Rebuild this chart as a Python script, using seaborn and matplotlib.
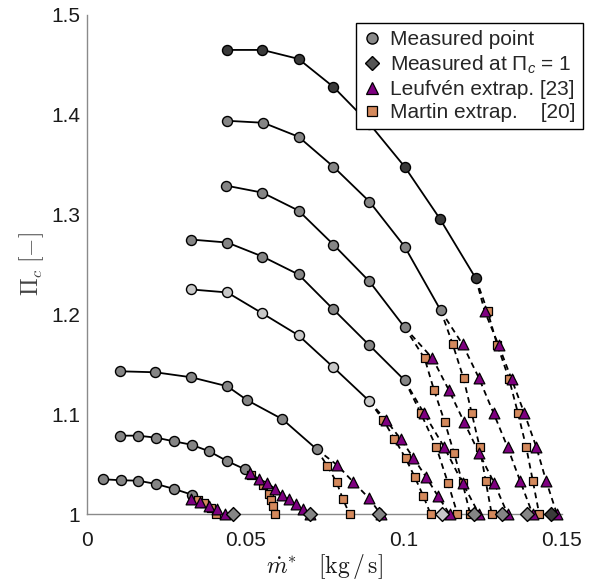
import matplotlib
matplotlib.use('Agg')
import matplotlib.pyplot as plt
import seaborn as sns
from matplotlib.lines import Line2D

sns.set_theme(style='white')
plt.rcParams['font.family'] = ['Liberation Sans', 'DejaVu Sans']
plt.rcParams['mathtext.fontset'] = 'custom'
plt.rcParams['mathtext.rm'] = 'Liberation Sans'
plt.rcParams['mathtext.it'] = 'Liberation Sans:italic'
plt.rcParams['mathtext.bf'] = 'Liberation Sans:bold'

# ---------------- data: measured speed lines (top -> bottom) ----------------
meas_x = [
    [0.0443, 0.0554, 0.0668, 0.0778, 0.0892, 0.1003, 0.1114, 0.1228],
    [0.0443, 0.0557, 0.0668, 0.0778, 0.0892, 0.1003, 0.1117],
    [0.0440, 0.0554, 0.0668, 0.0778, 0.0892, 0.1003],
    [0.0329, 0.0443, 0.0554, 0.0668, 0.0778, 0.0892, 0.1003],
    [0.0329, 0.0443, 0.0554, 0.0668, 0.0778, 0.0892],
    [0.0105, 0.0216, 0.0329, 0.0443, 0.0506, 0.0617, 0.0725],
    [0.0105, 0.0161, 0.0218, 0.0275, 0.0330, 0.0386, 0.0442, 0.0499],
    [0.0051, 0.0108, 0.0161, 0.0218, 0.0275, 0.0332],
]
meas_pi = [
    [1.465, 1.465, 1.456, 1.428, 1.391, 1.348, 1.296, 1.236],
    [1.394, 1.392, 1.378, 1.348, 1.313, 1.268, 1.204],
    [1.329, 1.322, 1.304, 1.270, 1.233, 1.187],
    [1.275, 1.272, 1.258, 1.240, 1.205, 1.169, 1.134],
    [1.225, 1.222, 1.201, 1.179, 1.147, 1.113],
    [1.143, 1.142, 1.137, 1.128, 1.114, 1.095, 1.065],
    [1.0785, 1.0785, 1.0765, 1.0728, 1.0694, 1.0628, 1.0531, 1.0448],
    [1.0348, 1.0338, 1.0334, 1.0301, 1.0251, 1.0193],
]
meas_color = ['#3a3a3a', '#858585', '#858585', '#858585', '#c8c8c8',
              '#858585', '#858585', '#858585']

# measured at Pi_c = 1
zero_x = [0.1465, 0.1388, 0.1309, 0.1223, 0.1122, 0.0921, 0.0703, 0.0462]
zero_pi = [1.0, 1.0, 1.0, 1.0, 1.0, 1.0, 1.0, 1.0]
zero_color = ['#3a3a3a', '#858585', '#858585', '#858585', '#c8c8c8',
              '#858585', '#858585', '#858585']

# Leufven extrapolation [23]
leuf_x = [
    [0.1256, 0.1300, 0.1341, 0.1381, 0.1419, 0.1450, 0.1484],
    [0.1186, 0.1238, 0.1284, 0.1328, 0.1368, 0.1407],
    [0.1091, 0.1143, 0.1191, 0.1238, 0.1286, 0.1328],
    [0.1064, 0.1128, 0.1186, 0.1238],
    [0.0944, 0.0991, 0.1031, 0.1071, 0.1108, 0.1145],
    [0.0790, 0.0841, 0.0890, 0.0927],
    [0.0515, 0.0542, 0.0569, 0.0595, 0.0616, 0.0639, 0.0661, 0.0682, 0.0703],
    [0.0327, 0.0358, 0.0384, 0.0410, 0.0437],
]
leuf_pi = [
    [1.203, 1.169, 1.135, 1.101, 1.067, 1.033, 1.0],
    [1.170, 1.136, 1.101, 1.067, 1.033, 1.0],
    [1.156, 1.124, 1.092, 1.061, 1.031, 1.0],
    [1.101, 1.067, 1.031, 1.0],
    [1.094, 1.075, 1.056, 1.037, 1.018, 1.0],
    [1.049, 1.032, 1.016, 1.0],
    [1.041, 1.035, 1.031, 1.025, 1.019, 1.015, 1.010, 1.005, 1.0],
    [1.015, 1.012, 1.008, 1.005, 1.0],
]

# Martin extrapolation [20]
mart_x = [
    [0.1265, 0.1296, 0.1333, 0.1361, 0.1387, 0.1408, 0.1428],
    [0.1155, 0.1189, 0.1215, 0.1240, 0.1259, 0.1278],
    [0.1066, 0.1096, 0.1130, 0.1159, 0.1186, 0.1210],
    [0.1054, 0.1103, 0.1140, 0.1170],
    [0.0936, 0.0971, 0.1006, 0.1035, 0.1062, 0.1085],
    [0.0759, 0.0788, 0.0808, 0.0829],
    [0.0519, 0.0556, 0.0574, 0.0581, 0.0587, 0.0595],
    [0.0350, 0.0370, 0.0392, 0.0408],
]
mart_pi = [
    [1.203, 1.169, 1.135, 1.101, 1.067, 1.033, 1.0],
    [1.170, 1.136, 1.101, 1.067, 1.033, 1.0],
    [1.156, 1.124, 1.092, 1.061, 1.031, 1.0],
    [1.101, 1.067, 1.031, 1.0],
    [1.094, 1.075, 1.056, 1.037, 1.018, 1.0],
    [1.048, 1.032, 1.015, 1.0],
    [1.039, 1.029, 1.020, 1.014, 1.008, 1.0],
    [1.014, 1.011, 1.006, 1.0],
]

x_ticks = [0, 0.05, 0.1, 0.15]
x_ticklabels = ['0', '0.05', '0.1', '0.15']
y_ticks = [1.0, 1.1, 1.2, 1.3, 1.4, 1.5]
y_ticklabels = ['1', '1.1', '1.2', '1.3', '1.4', '1.5']

legend_labels = ['Measured point', r'Measured at $\Pi_c$ = 1',
                 'Leufvén extrap. [23]', 'Martin extrap.    [20]']

# ---------------- figure ----------------
fig = plt.figure(figsize=(5.89, 5.87), dpi=100)
ax = fig.add_axes([87/589, 73/587, 475/589, 499/587])

purple = '#7e0080'
orange = '#d4895c'
dash = (0, (3.2, 2.4))

for i in range(len(meas_x)):
    sns.lineplot(x=meas_x[i], y=meas_pi[i], sort=False, estimator=None,
                 color='black', lw=1.3, ax=ax, zorder=2)
    lx = [meas_x[i][-1]] + leuf_x[i]
    ly = [meas_pi[i][-1]] + leuf_pi[i]
    mx = [meas_x[i][-1]] + mart_x[i]
    my = [meas_pi[i][-1]] + mart_pi[i]
    sns.lineplot(x=lx, y=ly, sort=False, estimator=None, color='black',
                 lw=1.3, ax=ax, zorder=2, linestyle=dash)
    sns.lineplot(x=mx, y=my, sort=False, estimator=None, color='black',
                 lw=1.3, ax=ax, zorder=2, linestyle=dash)

for i in range(len(meas_x)):
    sns.scatterplot(x=meas_x[i], y=meas_pi[i], marker='o', s=52,
                    color=meas_color[i], edgecolor='black', linewidth=1.0,
                    ax=ax, zorder=3, clip_on=False)
    sns.scatterplot(x=mart_x[i], y=mart_pi[i], marker='s', s=34,
                    color=orange, edgecolor='black', linewidth=0.9,
                    ax=ax, zorder=4, clip_on=False)
    sns.scatterplot(x=leuf_x[i], y=leuf_pi[i], marker='^', s=60,
                    color=purple, edgecolor='black', linewidth=0.9,
                    ax=ax, zorder=5, clip_on=False)

for i in range(len(zero_x)):
    sns.scatterplot(x=[zero_x[i]], y=[zero_pi[i]], marker='D', s=50,
                    color=zero_color[i], edgecolor='black', linewidth=1.0,
                    ax=ax, zorder=6, clip_on=False)

ax.set_xlim(0, 0.15)
ax.set_ylim(1, 1.5)
ax.set_xticks(x_ticks)
ax.set_xticklabels(x_ticklabels)
ax.set_yticks(y_ticks)
ax.set_yticklabels(y_ticklabels)
ax.tick_params(direction='in', length=4, width=0.8, colors='#7f7f7f',
               labelcolor='#1a1a1a', labelsize=15)
ax.tick_params(axis='x', pad=12)
ax.tick_params(axis='y', pad=5)
for s in ['top', 'right']:
    ax.spines[s].set_visible(False)
for s in ['left', 'bottom']:
    ax.spines[s].set_color('#8a8a8a')
    ax.spines[s].set_linewidth(1.0)

ax.set_xlabel(r'$\dot{m}^{*}\quad[\mathrm{kg}\,/\,\mathrm{s}]$', fontsize=17,
              color='#1a1a1a', math_fontfamily='cm', labelpad=2)
ax.set_ylabel(r'$\Pi_c\;[-]$', fontsize=17, color='#444444',
              math_fontfamily='cm', labelpad=4)

handles = [
    Line2D([], [], ls='none', marker='o', ms=8, mfc='#8a8a8a', mec='black', mew=1.0),
    Line2D([], [], ls='none', marker='D', ms=7, mfc='#555555', mec='black', mew=1.0),
    Line2D([], [], ls='none', marker='^', ms=8, mfc=purple, mec='black', mew=0.9),
    Line2D([], [], ls='none', marker='s', ms=6.5, mfc=orange, mec='black', mew=0.9),
]
leg = ax.legend(handles, legend_labels, loc='upper left',
                bbox_to_anchor=(356/589, 1 - 23/587), bbox_transform=fig.transFigure,
                fontsize=15, frameon=True, fancybox=False, framealpha=1,
                edgecolor='black', labelspacing=0.2, handlelength=0.8,
                handletextpad=0.5, borderpad=0.35, borderaxespad=0)
leg.get_frame().set_linewidth(1.0)
leg.set_zorder(10)

fig.savefig('out.png', dpi=100)
